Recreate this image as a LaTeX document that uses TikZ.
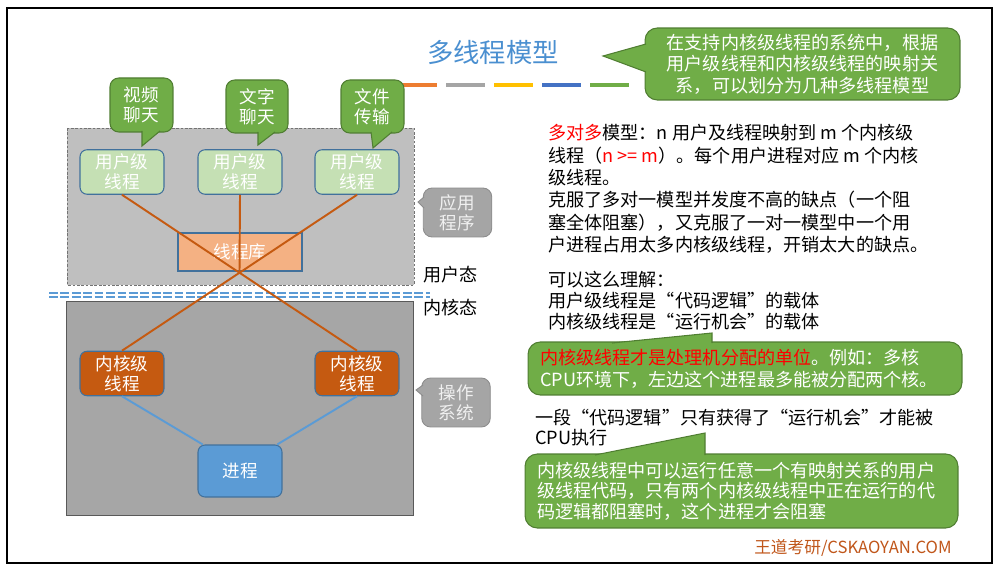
\documentclass[tikz,border=0pt]{standalone}
\usepackage{fontspec}
\setmainfont{Noto Sans CJK SC}
\definecolor{titleblue}{HTML}{4A8FD0}
\definecolor{barorange}{HTML}{ED7D31}
\definecolor{bargray}{HTML}{A5A5A5}
\definecolor{baryellow}{HTML}{FFC000}
\definecolor{barblue}{HTML}{4472C4}
\definecolor{bargreen}{HTML}{70AD47}
\definecolor{callgreen}{HTML}{70AD47}
\definecolor{callborder}{HTML}{507E32}
\definecolor{callgray}{HTML}{A5A5A5}
\definecolor{appgray}{HTML}{BFBFBF}
\definecolor{osgray}{HTML}{A6A6A6}
\definecolor{userfill}{HTML}{C5E0B4}
\definecolor{libfill}{HTML}{F4B183}
\definecolor{kernfill}{HTML}{C55A11}
\definecolor{procfill}{HTML}{5B9BD5}
\definecolor{boxborder}{HTML}{41719C}
\definecolor{linkorange}{HTML}{C55A11}
\definecolor{linkblue}{HTML}{5B9BD5}
\definecolor{hlred}{HTML}{FF0000}
\definecolor{markbrown}{HTML}{C0561A}

\begin{document}
\begin{tikzpicture}[x=0.02cm, y=-0.02cm,
    txt/.style={font=\fontsize{10.3}{12.7}\selectfont, inner sep=0pt, align=left, anchor=west},
    greencall/.style={fill=callgreen, draw=callborder, line width=0.6pt, rounded corners=5pt,
        text=white, align=center, inner sep=0pt, font=\fontsize{10.3}{12.2}\selectfont},
    graycall/.style={fill=callgray, draw=callgray!85!black, line width=0.5pt, rounded corners=5pt,
        text=white!88!gray, align=center, inner sep=0pt, font=\fontsize{10}{11.3}\selectfont,
        minimum width=1.37cm, minimum height=0.98cm},
    greentail/.style={fill=callgreen, draw=callborder, line width=0.6pt},
    graytail/.style={fill=callgray, draw=callgray!85!black, line width=0.5pt},
    thread/.style={draw=boxborder, line width=0.6pt, rounded corners=4pt, text=white, align=center,
        inner sep=0pt, minimum width=1.68cm, minimum height=0.89cm, font=\fontsize{10}{11.3}\selectfont},
    link/.style={draw=linkorange, line width=1.1pt},
    modeline/.style={draw=linkblue, line width=0.7pt, dash pattern=on 5pt off 1.5pt}]

    \useasboundingbox (0,0) rectangle (999,570);
    % Frame
    \draw[line width=1.3pt] (7,8) rectangle (992,563);

    % Title
    \node[font=\fontsize{15}{18}\selectfont, text=titleblue] (title) at (493,52) {多线程模型};
    \foreach \x/\c in {398/barorange, 446/bargray, 494/baryellow, 542/barblue, 590/bargreen}
        \fill[\c] (\x,83) rectangle ++(39,4);

    % User space and kernel space
    \draw[draw=gray!90!black, line width=0.5pt, dash pattern=on 1.5pt off 1pt, fill=appgray] (67,128) rectangle (414,285);
    \draw[draw=gray!70!black, fill=osgray] (66,301) rectangle (413,515);
    \draw[modeline] (49,293) -- (430,293);
    \draw[modeline] (49,297) -- (430,297);
    \node[txt] (umode) at (423,275) {用户态};
    \node[txt] (kmode) at (423,308) {内核态};

    % Threads
    \node[thread, fill=userfill] (u1) at (122,172) {用户级\\线程};
    \node[thread, fill=userfill] (u2) at (240,172) {用户级\\线程};
    \node[thread, fill=userfill] (u3) at (357,172) {用户级\\线程};
    \node[thread, fill=libfill, rounded corners=0pt, minimum width=2.48cm, minimum height=0.76cm] (lib) at (240,252) {线程库};
    \node[thread, fill=kernfill] (k1) at (122,373.5) {内核级\\线程};
    \node[thread, fill=kernfill] (k2) at (357,373.5) {内核级\\线程};
    \node[thread, fill=procfill, minimum height=1.04cm] (proc) at (240,471) {进程};

    \coordinate (cross) at (intersection of u1.south--k2.north and u3.south--k1.north);
    \draw[link] (u1.south) -- (k2.north);
    \draw[link] (u3.south) -- (k1.north);
    \draw[link] (u2.south) -- (cross);
    \draw[link, draw=linkblue] (k1.south) -- ([xshift=3pt]proc.north west);
    \draw[link, draw=linkblue] (k2.south) -- ([xshift=-3pt]proc.north east);

    % Callouts on the left
    \node[greencall, minimum width=1.26cm, minimum height=1.08cm, font=\fontsize{10}{11.3}\selectfont] (video) at (141.5,105) {视频\\聊天};
    \filldraw[greentail] (142,131) -- (142,146) -- (160,131);
    \node[greencall, minimum width=1.24cm, minimum height=1.06cm, font=\fontsize{10}{11.3}\selectfont] (chat) at (257,106.5) {文字\\聊天};
    \filldraw[greentail] (258,132) -- (258,145) -- (275,132);
    \node[greencall, minimum width=1.26cm, minimum height=1.06cm, font=\fontsize{10}{11.3}\selectfont] (file) at (372.5,106.5) {文件\\传输};
    \filldraw[greentail] (371,132) -- (373,148) -- (392,132);

    \node[graycall] (app) at (457.5,212.5) {应用\\程序};
    \filldraw[graytail] (424,197) -- (418,202) -- (424,208);
    \node[graycall] (os) at (456,402.5) {操作\\系统};
    \filldraw[graytail] (423,385) -- (416,390) -- (423,396);

    % Callout at the title
    \node[greencall, rounded corners=7pt, minimum width=6.3cm, minimum height=1.44cm] (intro) at (802.5,64)
        {在支持内核级线程的系统中，根据\\用户级线程和内核级线程的映射关\\系，可以划分为几种多线程模型};
    \filldraw[greentail] (646,44) -- (603,56) -- (646,72);

    % Text on the right
    \node[txt] (para1) at (548,189) {\textcolor{hlred}{多对多}模型：n 用户及线程映射到 m 个内核级\\线程（\textcolor{hlred}{n >= m}）。每个用户进程对应 m 个内核\\级线程。\\克服了多对一模型并发度不高的缺点（一个阻\\塞全体阻塞），又克服了一对一模型中一个用\\户进程占用太多内核级线程，开销太大的缺点。};
    \node[txt, font=\fontsize{10.3}{11.9}\selectfont] (para2) at (548,301) {可以这么理解：\\用户级线程是“代码逻辑”的载体\\内核级线程是“运行机会”的载体};

    \node[greencall, rounded corners=7pt, align=left, text width=8.2cm, inner xsep=0.24cm, minimum height=1.06cm,
        font=\fontsize{10.3}{12.5}\selectfont] (unit) at (745,368.5)
        {\textcolor{hlred}{内核级线程才是处理机分配的单位}。例如：多核\\CPU环境下，左边这个进程最多能被分配两个核。};
    \filldraw[greentail] (612,343) -- (712,333) -- (712,343);

    \node[txt, font=\fontsize{10.3}{11.3}\selectfont] (exec) at (535,428) {一段“代码逻辑”只有获得了“运行机会”才能被\\CPU执行};

    \node[greencall, rounded corners=7pt, align=left, text width=8.18cm, inner xsep=0.24cm, minimum height=1.48cm,
        font=\fontsize{10.3}{11.6}\selectfont] (block) at (741.5,491)
        {内核级线程中可以运行任意一个有映射关系的用户\\级线程代码，只有两个内核级线程中正在运行的代\\码逻辑都阻塞时，这个进程才会阻塞};
    \filldraw[greentail] (595,455) -- (705,433) -- (705,455);

    \node[anchor=east, inner sep=0pt, text=markbrown, font=\fontsize{9.5}{11}\selectfont] (mark) at (952,548) {王道考研/CSKAOYAN.COM};
\end{tikzpicture}
\end{document}
